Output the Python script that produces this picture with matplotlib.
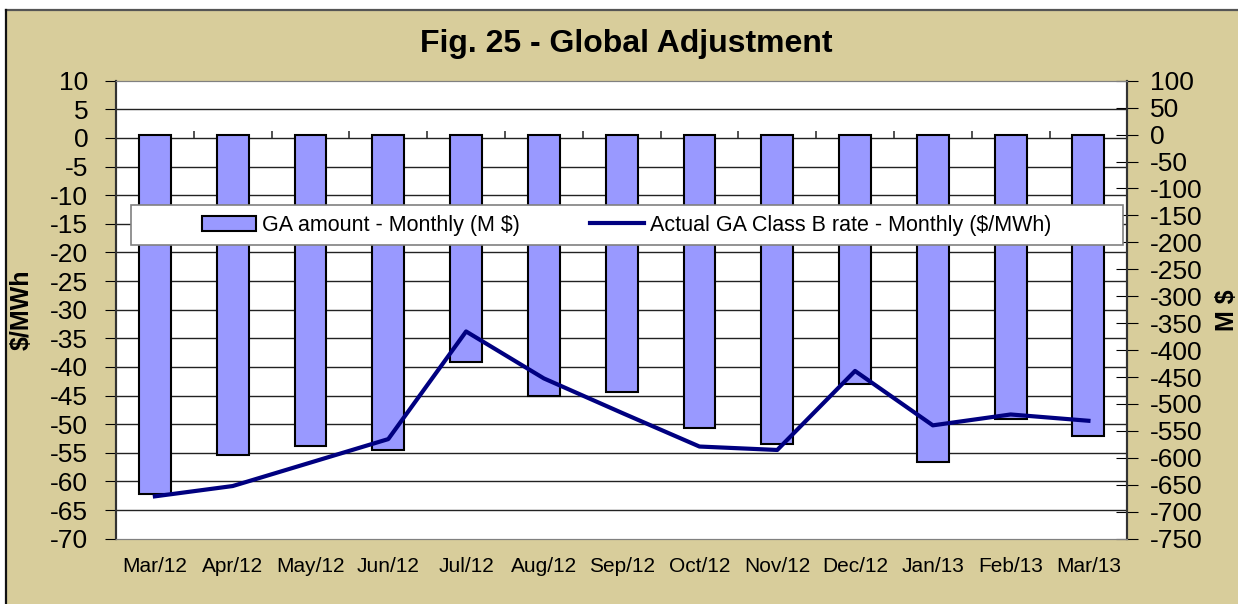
import numpy as np
import matplotlib
matplotlib.use("Agg")
import matplotlib.pyplot as plt
from matplotlib.patches import Rectangle
from matplotlib.lines import Line2D
from matplotlib.ticker import FixedLocator

# data
months = ["Mar/12", "Apr/12", "May/12", "Jun/12", "Jul/12", "Aug/12", "Sep/12",
          "Oct/12", "Nov/12", "Dec/12", "Jan/13", "Feb/13", "Mar/13"]
ga_amount = [-667, -595, -578, -585, -422, -485, -478, -545, -575, -463, -607, -527, -559]
ga_rate = [-62.6, -60.8, -56.7, -52.6, -33.8, -42.0, -48.0, -53.9, -54.5, -40.7, -50.2, -48.3, -49.4]

left_lim = (-70, 10)
right_lim = (-750, 100)

plt.rcParams['font.family'] = ['Liberation Sans', 'DejaVu Sans']
plt.rcParams['axes.unicode_minus'] = False

bg = '#D8CD9B'
W, H = 1238, 604
fig = plt.figure(figsize=(12.38, 6.04), dpi=100, facecolor='white')

# tan chart area with a dark top and left edge, open to the right and bottom
fx, fy = 6 / W, 1 - 9.7 / H
fig.patches.append(Rectangle((fx, 0), 1 - fx, fy, transform=fig.transFigure,
                             facecolor=bg, edgecolor='none', zorder=-10))
fig.lines.append(Line2D([fx, 1], [fy, fy], transform=fig.transFigure, color='#555555',
                        linewidth=1.6, zorder=-9))
fig.lines.append(Line2D([fx, fx], [0, fy], transform=fig.transFigure, color='#111111',
                        linewidth=1.6, zorder=-9))

ax = fig.add_axes([0.0937, 0.1081, 0.8169, 0.7583])
ax2 = ax.twinx()

x = np.arange(len(months))

# bars on the right (M $) axis, behind
ax2.bar(x, ga_amount, width=0.41, color='#9999FF', edgecolor='black', linewidth=1.5,
        label='GA amount - Monthly (M $)', zorder=3)
ax2.set_ylim(*right_lim)
ax2.set_yticks(np.arange(-750, 101, 50))
ax2.tick_params(axis='y', direction='inout', length=16, labelsize=19, pad=8, colors='black')

# gridlines follow the left axis ticks, drawn on the bar axis so bars cover them
left_ticks = np.arange(-70, 11, 5)
grid_pos = right_lim[0] + (left_ticks - left_lim[0]) * (right_lim[1] - right_lim[0]) / (left_lim[1] - left_lim[0])
ax2.yaxis.set_minor_locator(FixedLocator(grid_pos))
ax2.grid(which='minor', axis='y', color='#222222', linewidth=1.0, zorder=1)
ax2.tick_params(which='minor', length=0)
ax2.set_ylabel('M $', fontsize=18, fontweight='bold', rotation=90)
ax2.yaxis.set_label_coords(1.0867, 0.5)

# line on the left ($/MWh) axis, in front
ax.plot(x, ga_rate, color='#000080', linewidth=3, label='Actual GA Class B rate - Monthly ($/MWh)',
        zorder=4)
ax.set_ylim(*left_lim)
ax.set_yticks(left_ticks)
ax.tick_params(axis='y', direction='out', length=8, labelsize=19, pad=12)
ax.set_ylabel('$/MWh', fontsize=18, fontweight='bold')
ax.yaxis.set_label_coords(-0.081, 0.5)

ax.set_xlim(-0.5, len(months) - 0.5)
ax.set_xticks(x)
ax.set_xticklabels(months, fontsize=15)
ax.tick_params(axis='x', length=0, pad=13)

# category axis crossing at 0 with boundary tick marks
sec = ax.secondary_xaxis(0, transform=ax.transData)
sec.set_xticks(x[:-1] + 0.5)
sec.set_xticklabels([])
sec.tick_params(direction='in', length=5, width=1.2, color='#333333')
for s in sec.spines.values():
    s.set_visible(False)

ax.set_zorder(ax2.get_zorder() + 1)
ax.patch.set_visible(False)
ax2.patch.set_visible(True)
ax2.patch.set_facecolor('white')

for a in (ax, ax2):
    a.spines['top'].set_color('#808080')
    a.spines['bottom'].set_color('#808080')
    a.spines['left'].set_color('#333333')
    a.spines['right'].set_color('#333333')
    a.spines['left'].set_linewidth(1.5)
    a.spines['right'].set_linewidth(1.5)

# legend box spanning the plot width, entries centred in it
legend_box = (0.0145, 0.6406, 0.981, 0.0874)
ax.add_patch(Rectangle(legend_box[:2], legend_box[2], legend_box[3], transform=ax.transAxes,
                       facecolor='white', edgecolor='#808080', linewidth=1.2, zorder=4.5))
handles = ax2.get_legend_handles_labels()[0] + ax.get_legend_handles_labels()[0]
labels = ax2.get_legend_handles_labels()[1] + ax.get_legend_handles_labels()[1]
leg = ax.legend(handles, labels, loc='center', bbox_to_anchor=legend_box,
                ncol=2, fontsize=15.5, frameon=False, handlelength=2.5,
                handletextpad=0.25, columnspacing=3.3, borderaxespad=0)
leg.set_zorder(5)

fig.text(0.506, 1 - 44 / H, 'Fig. 25 - Global Adjustment', ha='center', va='center',
         fontsize=23, fontweight='bold')

fig.savefig('out.png', dpi=100, facecolor='white')
